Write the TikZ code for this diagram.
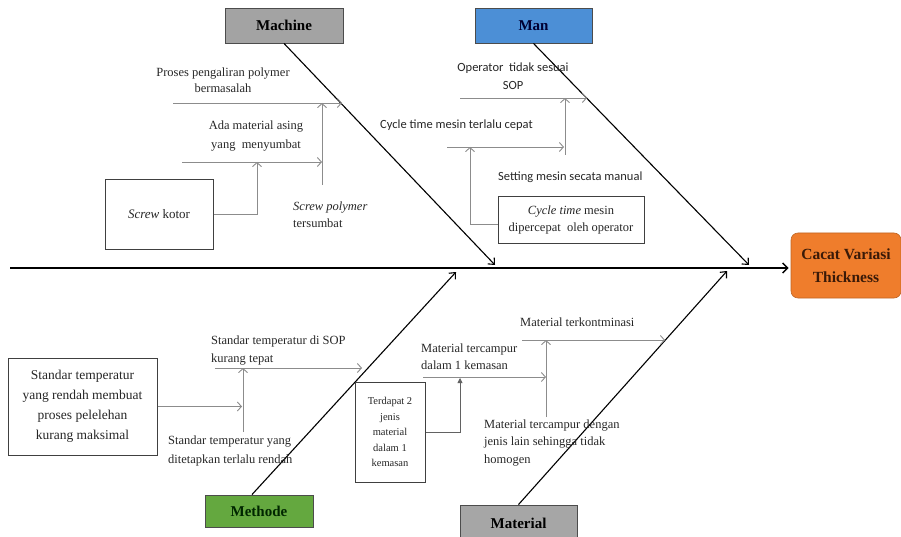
\documentclass[tikz,border=0pt]{standalone}
\usepackage{fontspec}
\setmainfont{Liberation Serif}
\newfontfamily\calib{Carlito}
\usetikzlibrary{arrows.meta,calc}
\definecolor{subgray}{HTML}{8C8C8C}
\definecolor{txtgray}{HTML}{262626}
\definecolor{machinefill}{HTML}{A3A3A3}
\definecolor{manfill}{HTML}{4C8FD6}
\definecolor{methfill}{HTML}{64A83F}
\definecolor{matfill}{HTML}{A6A6A6}
\definecolor{efffill}{HTML}{EF7D2C}
\definecolor{efftext}{HTML}{3A1A08}
\begin{document}
\begin{tikzpicture}[x=1pt,y=-1pt,
  title/.style={draw=black!70, line width=0.9pt, inner sep=0pt,
    font=\fontsize{15}{17}\selectfont\bfseries},
  lbl/.style={inner sep=0pt, text=txtgray, font=\fontsize{12.5}{17}\selectfont},
  sanslbl/.style={inner sep=0pt, text=txtgray, font=\calib\fontsize{12.5}{18}\selectfont},
  causebox/.style={draw=black!75, line width=1pt, fill=white, inner sep=0pt,
    align=center, text=txtgray},
  sub/.style={draw=subgray, line width=0.9pt, -{Straight Barb[length=4pt,width=9pt]}},
  bone/.style={draw=black, line width=1.1pt, -{Straight Barb[length=5pt,width=9pt]}},
  spine/.style={draw=black, line width=1.5pt, -{Straight Barb[length=5pt,width=10pt]}},
  fill arrow/.style={draw=subgray!70!black, line width=0.8pt, -{Triangle[length=5pt,width=5pt]}}
]
\useasboundingbox (0,0) rectangle (901,537);

% category and effect boxes
\node[title, fill=machinefill, minimum width=118pt, minimum height=35pt] (machine) at (284,25.5) {Machine};
\node[title, fill=manfill, text=black!80!blue, minimum width=117pt, minimum height=35pt] (man) at (533.5,25.5) {Man};
\node[title, fill=methfill, text=black!85!green, minimum width=108pt, minimum height=32pt] (methode) at (259,511) {Methode};
\node[title, fill=matfill, minimum width=117pt, minimum height=36pt] (material) at (518.5,523) {Material};
\node[fill=efffill, draw=efffill!80!black, line width=0.6pt, rounded corners=7pt,
  minimum width=110pt, minimum height=65pt, align=center, text=efftext,
  font=\fontsize{15.5}{23}\selectfont\bfseries] (effect) at (846,265.5) {Cacat Variasi\\Thickness};

% spine and bones
\coordinate (sl) at (10,268);
\draw[spine, shorten >=2pt] (sl) -- (sl -| effect.west);
\coordinate (mtip) at (495,265);
\coordinate (ntip) at (749,265);
\coordinate (ptip) at (456,272);
\coordinate (atip) at (727,271);
\draw[bone] (machine.south) -- (mtip);
\draw[bone] (man.south) -- (ntip);
\draw[bone] ([xshift=-7pt]methode.north) -- (ptip);
\draw[bone] (material.north) -- (atip);

% ---- Machine
\coordinate (m1s) at (173,103); \coordinate (m1e) at (342,103);
\coordinate (m2s) at (322,185); \coordinate (m2e) at (322,103);
\coordinate (m3s) at (182,162); \coordinate (m3e) at (322,162);
\coordinate (m4e) at (257,162);
\draw[sub] (m1s) -- (m1e);
\draw[sub] (m2s) -- (m2e);
\draw[sub] (m3s) -- (m3e);
\node[lbl, align=center, font=\fontsize{12.5}{16}\selectfont] (t1) at (223,80) {Proses pengaliran polymer\\bermasalah};
\node[lbl, align=center, font=\fontsize{12.5}{19}\selectfont] (t2) at (256,136.5) {Ada material asing\\yang~ menyumbat};
\node[lbl, align=left, anchor=west] (t3) at (293,215) {\textit{Screw polymer}\\tersumbat};
\node[causebox, minimum width=108pt, minimum height=69pt, font=\fontsize{13}{17}\selectfont] (scr) at (159,214.5) {\textit{Screw} kotor};
\draw[sub] (scr.east) -| (m4e);

% ---- Man
\coordinate (n1s) at (460,98); \coordinate (n1e) at (587,98);
\coordinate (n2s) at (565,155); \coordinate (n2e) at (565,98);
\coordinate (n3s) at (447,147); \coordinate (n3e) at (564,147);
\coordinate (n4e) at (470,147);
\draw[sub] (n1s) -- (n1e);
\draw[sub] (n2s) -- (n2e);
\draw[sub] (n3s) -- (n3e);
\node[sanslbl, align=center] (t4) at (513,76) {Operator~~tidak sesuai\\SOP};
\node[sanslbl, anchor=west] (t5) at (380,125) {Cycle time mesin terlalu cepat};
\node[sanslbl, anchor=west] (t6) at (498,177) {Setting mesin secata manual};
\node[causebox, minimum width=146pt, minimum height=46pt, font=\fontsize{12.5}{17}\selectfont] (ct) at (571,220) {\textit{Cycle time} mesin\\dipercepat~~oleh operator};
\draw[sub] ([yshift=-4pt]ct.west) -| (n4e);

% ---- Methode
\coordinate (p1s) at (215,368); \coordinate (p1e) at (362,368);
\coordinate (p2s) at (243,432); \coordinate (p2e) at (243,368);
\coordinate (p3e) at (242,406.5);
\draw[sub] (p1s) -- (p1e);
\draw[sub] (p2s) -- (p2e);
\node[lbl, align=left, anchor=west, font=\fontsize{12.5}{18}\selectfont] (t7) at (211,351) {Standar temperatur di SOP\\kurang tepat};
\node[lbl, align=left, anchor=west, font=\fontsize{12.5}{19}\selectfont] (t8) at (168,451) {Standar temperatur yang\\ditetapkan terlalu rendah};
\node[causebox, minimum width=149pt, minimum height=97pt, font=\fontsize{13.5}{20}\selectfont] (st) at (82.5,406.5) {Standar temperatur\\yang rendah membuat\\proses pelelehan\\kurang maksimal};
\draw[sub] (st.east) -- (p3e);

% ---- Material
\coordinate (a1s) at (522,340); \coordinate (a1e) at (665,340);
\coordinate (a2s) at (546,417); \coordinate (a2e) at (546,340);
\coordinate (a3s) at (423,377); \coordinate (a3e) at (546,377);
\coordinate (a4e) at (460,378);
\draw[sub] (a1s) -- (a1e);
\draw[sub] (a2s) -- (a2e);
\draw[sub] (a3s) -- (a3e);
\node[lbl, anchor=west] (t9) at (520,322) {Material terkontminasi};
\node[lbl, align=left, anchor=west] (t10) at (421,357) {Material tercampur\\dalam 1 kemasan};
\node[lbl, align=left, anchor=west, font=\fontsize{12.5}{17.5}\selectfont] (t11) at (484,443) {Material tercampur dengan\\jenis lain sehingga tidak\\homogen};
\node[causebox, minimum width=70pt, minimum height=100pt, font=\fontsize{10.5}{15.5}\selectfont] (td) at (390,432) {Terdapat 2\\jenis\\material\\dalam 1\\kemasan};
\draw[fill arrow] (td.east) -| (a4e);
\end{tikzpicture}
\end{document}
